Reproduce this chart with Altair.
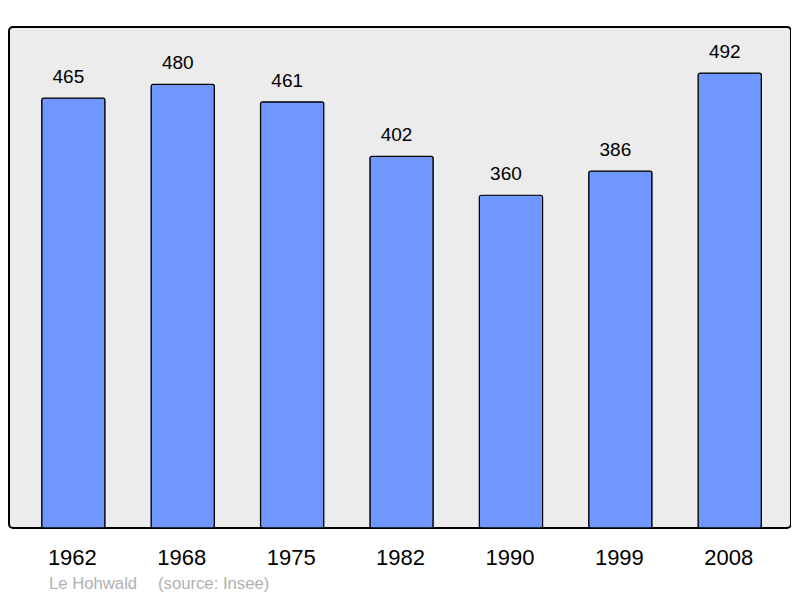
import altair as alt
import pandas as pd

years = ["1962", "1968", "1975", "1982", "1990", "1999", "2008"]
population = [465, 480, 461, 402, 360, 386, 492]
footer_place = ["Le Hohwald"]
footer_source = ["(source: Insee)"]

df = pd.DataFrame({"year": years, "pop": population})

x = alt.X("year:N", sort=years, title=None,
          scale=alt.Scale(paddingInner=0.4214, paddingOuter=0.2847, align=0.525),
          axis=alt.Axis(labelAngle=0, labelFontSize=22, labelFont="Liberation Sans",
                        labelColor="#000000", labelBaseline="alphabetic",
                        labelPadding=36, labelOffset=-1, ticks=False, tickSize=0,
                        domain=False, grid=False))
y = alt.Y("pop:Q", scale=alt.Scale(domain=[0, 542], nice=False, zero=True), axis=None)

base = alt.Chart(df)

bars = base.mark_bar(color="#7097ff", stroke="#000000", strokeWidth=1.2,
                     cornerRadius=2).encode(x=x, y=y)

labels = base.mark_text(font="Liberation Sans", fontSize=19, baseline="alphabetic",
                        dy=-15, dx=-5, color="#000000").encode(x=x, y=y, text="pop:Q")

foot1 = alt.Chart(pd.DataFrame({"t": footer_place})).mark_text(
    font="Liberation Sans", fontSize=16.7, color="#b0b0b0", align="left",
    baseline="alphabetic").encode(x=alt.value(40), y=alt.value(562), text="t:N")
foot2 = alt.Chart(pd.DataFrame({"t": footer_source})).mark_text(
    font="Liberation Sans", fontSize=16.7, color="#b0b0b0", align="left",
    baseline="alphabetic").encode(x=alt.value(149), y=alt.value(562), text="t:N")

chart = alt.layer(bars, labels, foot1, foot2).properties(
    width=782, height=501,
    autosize=alt.AutoSizeParams(type="none"),
    padding={"left": 1, "top": 19, "right": 0, "bottom": 70},
    background="#ffffff",
).configure_view(
    fill="#ececec", stroke="#000000", strokeWidth=2, cornerRadius=4
)

chart.save("out.html", embed_options={"renderer": "svg", "actions": False})
